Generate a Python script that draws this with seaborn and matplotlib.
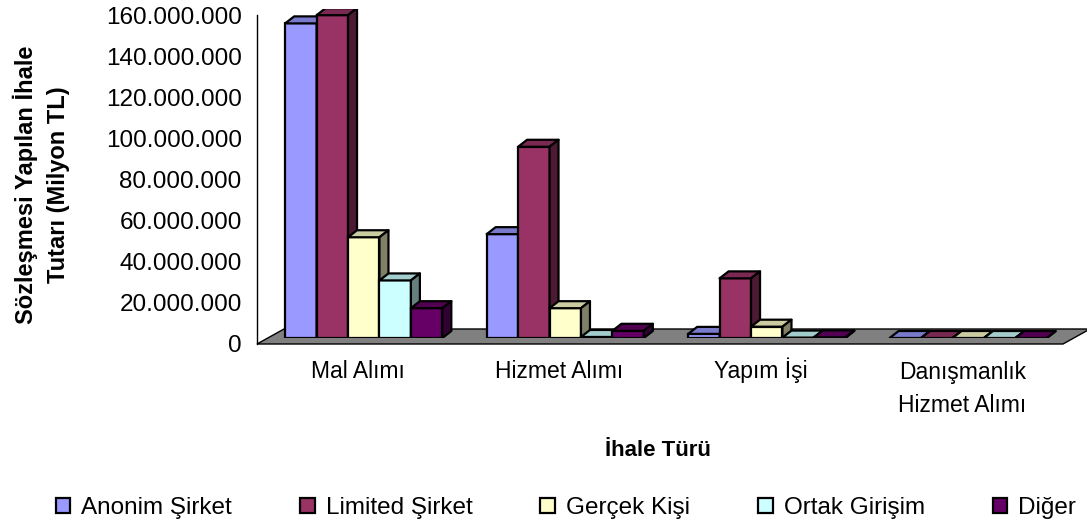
import numpy as np
import pandas as pd
import matplotlib
matplotlib.use("Agg")
import matplotlib.pyplot as plt
from matplotlib.patches import Polygon, Rectangle
from matplotlib.ticker import FuncFormatter, MultipleLocator
from matplotlib.colors import to_rgb
import seaborn as sns

# -------------------------------
# Data
# -------------------------------
categories = ["Mal Alımı", "Hizmet Alımı", "Yapım İşi", "Danışmanlık\nHizmet Alımı"]
series = ["Anonim Şirket", "Limited Şirket", "Gerçek Kişi", "Ortak Girişim", "Diğer"]
anonim = [153e6, 50.5e6, 2.0e6, 0]
limited = [157e6, 93e6, 29e6, 0]
gercek = [49e6, 14.5e6, 5.5e6, 0]
ortak = [28e6, 0.5e6, 0.2e6, 0]
diger = [14.5e6, 3.5e6, 0.3e6, 0]
colors = ["#9999FF", "#993366", "#FFFFCC", "#CCFFFF", "#660066"]

values = [anonim, limited, gercek, ortak, diger]
df = pd.DataFrame({
    "Kategori": categories * len(series),
    "Şirket": np.repeat(series, len(categories)),
    "Tutar": np.concatenate(values),
})

sns.set_style("white")
plt.rcParams["font.family"] = ["Liberation Sans", "DejaVu Sans"]
plt.rcParams["text.color"] = "black"
plt.rcParams["axes.labelcolor"] = "black"
plt.rcParams["xtick.color"] = "black"
plt.rcParams["ytick.color"] = "black"

W, H = 1087, 528
fig = plt.figure(figsize=(W / 100, H / 100), dpi=100)

# plot area in pixels (front plane)
left, top, right, bottom = 257, 15, 1063, 344
ax_w, ax_h = right - left, bottom - top
ymax = 160e6
px_x = 4 / ax_w       # data units per pixel (x)
px_y = ymax / ax_h    # data units per pixel (y)

ax = fig.add_axes([left / W, (H - bottom) / H, ax_w / W, ax_h / H])
ax.set_xlim(-0.5, 3.5)
ax.set_ylim(0, ymax)
for s in ["top", "right", "bottom"]:
    ax.spines[s].set_visible(False)
ax.spines["left"].set_color("black")
ax.spines["left"].set_linewidth(1.0)
ax.yaxis.set_major_locator(MultipleLocator(20e6))
ax.yaxis.set_major_formatter(FuncFormatter(lambda v, _: f"{v:,.0f}".replace(",", ".")))
ax.tick_params(axis="y", direction="out", length=7, width=1, labelsize=17.5, pad=4)
ax.set_xticks([])
ax.set_xticks(np.arange(-0.5, 4, 1), minor=True)
ax.tick_params(axis="x", which="minor", direction="out", length=8, width=1)
ax.grid(False)

# category labels, baselines lined up like the original
for i, cat in enumerate(categories):
    n_lines = cat.count("\n")
    ax.text(i, (-34 - 34 * n_lines) / ax_h, cat, transform=ax.get_xaxis_transform(),
            ha="center", va="baseline", ma="center", fontsize=16.5, linespacing=1.55)

# floor
fdx, fdy = 27 * px_x, 15 * px_y
floor = Polygon([(-0.5, 0), (3.5, 0), (3.5 + fdx, fdy), (-0.5 + fdx, fdy)],
                closed=True, facecolor="#808080", edgecolor="black", lw=1.0,
                zorder=1, clip_on=False)
ax.add_patch(floor)

# bars on a plane set back into the floor
off_x, off_y = 6, 6
bx = fig.add_axes([(left + off_x) / W, (H - bottom + off_y) / H, ax_w / W, ax_h / H])
bx.patch.set_alpha(0)
sns.barplot(data=df, x="Kategori", y="Tutar", hue="Şirket", palette=colors,
            width=0.78, saturation=1, edgecolor="black", linewidth=1.6,
            legend=False, ax=bx, order=categories, hue_order=series)
bx.set_xlim(-0.5, 3.5)
bx.set_ylim(0, ymax)
bx.axis("off")

# 3D look: top and side faces
ddx, ddy = 9 * px_x, 7 * px_y
for j, cont in enumerate(bx.containers):
    base = np.array(to_rgb(colors[j]))
    for p in cont.patches:
        p.set_zorder(3 + j)
        x0, y0 = p.get_x(), p.get_y()
        w, h = p.get_width(), p.get_height()
        y1 = y0 + h
        topf = Polygon([(x0, y1), (x0 + w, y1), (x0 + w + ddx, y1 + ddy), (x0 + ddx, y1 + ddy)],
                       closed=True, facecolor=base * 0.8, edgecolor="black", lw=1.6,
                       zorder=3 + j, joinstyle="round")
        side = Polygon([(x0 + w, y0), (x0 + w + ddx, y0 + ddy), (x0 + w + ddx, y1 + ddy), (x0 + w, y1)],
                       closed=True, facecolor=base * 0.5, edgecolor="black", lw=1.6,
                       zorder=3 + j, joinstyle="round")
        bx.add_patch(topf)
        bx.add_patch(side)

# axis titles
fig.text(41 / W, 1 - 185 / H, "Sözleşmesi Yapılan İhale\nTutarı (Milyon TL)",
         rotation=90, ha="center", va="center", ma="center",
         fontsize=17, fontweight="bold", linespacing=1.5)
fig.text(658 / W, 1 - 450 / H, "İhale Türü", ha="center", va="center",
         fontsize=16, fontweight="bold")

# legend
handles = [Rectangle((0, 0), 1, 1, facecolor=c, edgecolor="black", lw=1.6) for c in colors]
fig.legend(handles, series, loc="center", bbox_to_anchor=(566 / W, 1 - 508 / H),
           ncol=5, frameon=False, fontsize=17.5, handlelength=0.6, handleheight=0.6,
           handletextpad=0.45, columnspacing=2.8)

fig.savefig("out.png", dpi=100)
